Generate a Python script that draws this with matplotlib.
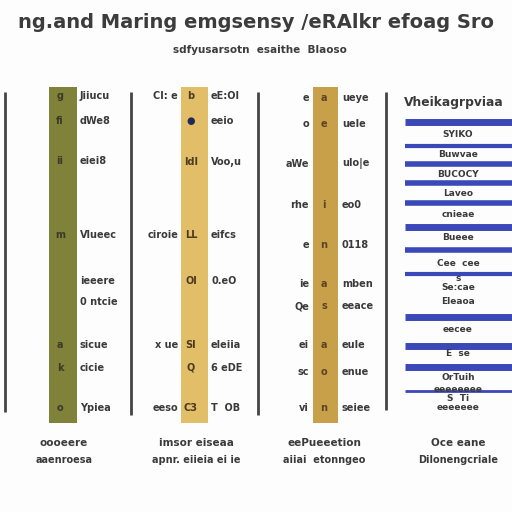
import matplotlib
matplotlib.use("Agg")
import matplotlib.pyplot as plt

# ---------------- data ----------------
title = "ng.and Maring emgsensy /eRAlkr efoag Sro"
subtitle = "sdfyusarsotn  esaithe  Blaoso"

bar_values = [100, 100, 100]
bar_colors = ["#7f8238", "#e3be68", "#c9a04a"]

p1_levels = [97.3, 89.9, 78.0, 56.0, 42.3, 36.0, 23.2, 16.4, 4.5]
p1_inner = ["g", "fi", "ii", "m", "", "", "a", "k", "o"]
p1_right = ["Jiiucu", "dWe8", "eiei8", "Vlueec", "ieeere", "0 ntcie", "sicue", "cicie", "Ypiea"]

p2_levels = [97.3, 89.9, 77.7, 56.0, 42.3, 23.2, 16.4, 4.5]
p2_left = ["Cl: e", "", "", "ciroie", "", "x ue", "", "eeso"]
p2_inner = ["b", "\u25CF", "ldl", "LL", "Ol", "SI", "Q", "C3"]
p2_right = ["eE:Ol", "eeio", "Voo,u", "eifcs", "0.eO", "eleiia", "6 eDE", "T  OB"]

p3_levels = [96.7, 88.9, 77.1, 64.9, 53.0, 41.4, 34.8, 23.2, 15.2, 4.5]
p3_left = ["e", "o", "aWe", "rhe", "e", "ie", "Qe", "ei", "sc", "vi"]
p3_inner = ["a", "e", "", "i", "n", "a", "s", "a", "o", "n"]
p3_right = ["ueye", "uele", "ulo|e", "eo0", "0118", "mben", "eeace", "eule", "enue", "seiee"]

p4_header = "Vheikagrpviaa"
p4_dividers = [89.6, 82.4, 77.1, 71.4, 65.5, 58.3, 51.5, 44.3, 31.5, 23.0, 16.7, 9.5]
p4_div_width = [5, 3, 4, 4, 4, 5, 4, 3, 5, 5, 5, 2]
p4_text_levels = [86.0, 79.8, 74.1, 68.2, 62.2, 55.1, 47.6, 43.0, 40.2, 36.3, 27.7, 20.8, 13.4, 10.1, 7.4, 4.5]
p4_texts = ["SYIKO", "Buwvae", "BUCOCY", "Laveo", "cnieae", "Bueee", "Cee  cee", "s",
            "Se:cae", "Eleaoa", "eecee", "E  se", "OrTuih", "eeeeeeee", "S  Ti", "eeeeeee"]

captions = [("oooeere", "aaenroesa"),
            ("imsor eiseaa", "apnr. eiieia ei ie"),
            ("eePueeetion", "aiiai  etonngeo"),
            ("Oce eane", "Dilonengcriale")]

# ---------------- figure ----------------
W = H = 512
fig = plt.figure(figsize=(5.12, 5.12), dpi=100)
fig.patch.set_facecolor("#fdfdfd")

top_px, bot_px = 87, 423
ax = fig.add_axes([0, (H - bot_px) / H, 1, (bot_px - top_px) / H])
ax.set_xlim(0, W)
ax.set_ylim(0, 100)
ax.axis("off")

txt = "#3a3a3a"
fs = 7

# vertical separators
for x, (y0, y1) in zip([5, 131, 258, 386], [(3.3, 98.5), (2.5, 98.5), (2.5, 98.5), (3.9, 98.5)]):
    ax.vlines(x, y0, y1, color="#444444", lw=2)

# bars
ax.bar([63, 194.5, 325.5], bar_values, width=[28, 27, 25], bottom=0,
       color=bar_colors, align="center")

# panel 1
for lv, inn, r in zip(p1_levels, p1_inner, p1_right):
    ax.text(60, lv, inn, ha="center", va="center", fontsize=fs, color="#3a3a2a", fontweight="bold")
    ax.text(80, lv, r, ha="left", va="center", fontsize=fs, color=txt, fontweight="bold")

# panel 2
for lv, l, inn, r in zip(p2_levels, p2_left, p2_inner, p2_right):
    ax.text(178, lv, l, ha="right", va="center", fontsize=fs, color=txt, fontweight="bold")
    col = "#1f2a55" if inn == "\u25CF" else "#4a3a20"
    ax.text(191, lv, inn, ha="center", va="center", fontsize=fs, color=col, fontweight="bold")
    ax.text(211, lv, r, ha="left", va="center", fontsize=fs, color=txt, fontweight="bold")

# panel 3
for lv, l, inn, r in zip(p3_levels, p3_left, p3_inner, p3_right):
    ax.text(309, lv, l, ha="right", va="center", fontsize=fs, color=txt, fontweight="bold")
    ax.text(324, lv, inn, ha="center", va="center", fontsize=fs, color="#5a4520", fontweight="bold")
    ax.text(342, lv, r, ha="left", va="center", fontsize=fs, color=txt, fontweight="bold")

# panel 4
ax.text(404, 95.5, p4_header, ha="left", va="center", fontsize=8.8, color=txt, fontweight="bold")
for lv, lw in zip(p4_dividers, p4_div_width):
    ax.hlines(lv, 405, 512, color="#3a48b8", lw=lw)
for lv, t in zip(p4_text_levels, p4_texts):
    ax.text(458, lv, t, ha="center", va="center", fontsize=6.5, color=txt, fontweight="bold")

# titles
fig.text(256 / W, 1 - 23 / H, title, ha="center", va="center", fontsize=14,
         color="#3c3c3c", fontweight="bold")
fig.text(260 / W, 1 - 50 / H, subtitle, ha="center", va="center", fontsize=7.5,
         color="#3c3c3c", fontweight="bold")

# captions
for cx, (a, b) in zip([64, 196, 324, 458], captions):
    fig.text(cx / W, 1 - 443 / H, a, ha="center", va="center", fontsize=7.5, color=txt, fontweight="bold")
    fig.text(cx / W, 1 - 460 / H, b, ha="center", va="center", fontsize=7, color=txt, fontweight="bold")

fig.savefig("out.png", dpi=100, facecolor=fig.get_facecolor())
